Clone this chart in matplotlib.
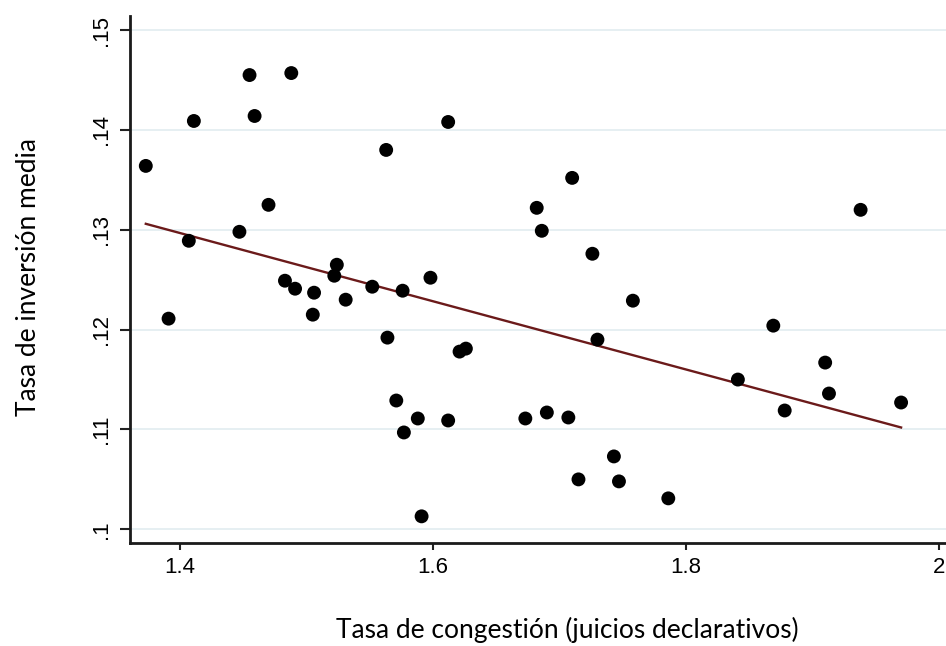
import numpy as np
from matplotlib import pyplot as plt

# congestion rate (x) vs mean investment rate (y)
congestion = [1.373, 1.391, 1.407, 1.411, 1.447, 1.455, 1.459, 1.470, 1.483, 1.488,
              1.491, 1.506, 1.505, 1.524, 1.522, 1.531, 1.552, 1.563, 1.564, 1.571,
              1.577, 1.588, 1.591, 1.576, 1.598, 1.612, 1.612, 1.621, 1.626, 1.673,
              1.682, 1.686, 1.690, 1.707, 1.710, 1.715, 1.726, 1.730, 1.743, 1.747,
              1.758, 1.786, 1.841, 1.869, 1.878, 1.910, 1.913, 1.938, 1.970]
investment = [.1364, .1211, .1289, .1409, .1298, .1455, .1414, .1325, .1249, .1457,
              .1241, .1237, .1215, .1265, .1254, .1230, .1243, .1380, .1192, .1129,
              .1097, .1111, .1013, .1239, .1252, .1408, .1109, .1178, .1181, .1111,
              .1322, .1299, .1117, .1112, .1352, .1050, .1276, .1190, .1073, .1048,
              .1229, .1031, .1150, .1204, .1119, .1167, .1136, .1320, .1127]

# fitted line as shown (ends at min / max of x)
fit_x = [1.373, 1.970]
fit_y = [.1306, .1102]

yticks = [.10, .11, .12, .13, .14, .15]
ytick_labels = ['.1', '.11', '.12', '.13', '.14', '.15']
xticks = [1.4, 1.6, 1.8, 2.0]
xtick_labels = ['1.4', '1.6', '1.8', '2']

fig = plt.figure(figsize=(9.46, 6.46), dpi=100)
ax = fig.add_axes([0.1374, 0.159, 0.8626, 0.816])

for t in yticks:
    ax.axhline(t, color='#e6eff2', lw=1.4, zorder=0)
ax.scatter(congestion, investment, s=100, c='black', edgecolors='none', zorder=3)
ax.plot(fit_x, fit_y, color='#6b1a1a', lw=1.7, zorder=2)

ax.set_xlim(1.3605, 2.0055)
ax.set_ylim(.0986, .1514)
ax.set_xticks(xticks)
ax.set_xticklabels(xtick_labels, fontsize=16, family='Liberation Sans')
ax.set_yticks(yticks)
ax.set_yticklabels(ytick_labels, fontsize=16, family='Liberation Sans',
                   rotation=90, va='center')
ax.tick_params(axis='x', length=5, width=1.5, color='#222222', pad=5)
ax.tick_params(axis='y', length=7, width=1.5, color='#222222', pad=6)
for s in ['top', 'right']:
    ax.spines[s].set_visible(False)
for s in ['left', 'bottom']:
    ax.spines[s].set_linewidth(2)
    ax.spines[s].set_color('#1a1a1a')

fig.text(0.60, 0.012, 'Tasa de congestión (juicios declarativos)',
         ha='center', va='baseline', fontsize=19, family='Lato')
fig.text(0.03, 0.571, 'Tasa de inversión media', rotation=90,
         ha='center', va='center', fontsize=19, family='Lato')

fig.savefig('out.png', dpi=100)
